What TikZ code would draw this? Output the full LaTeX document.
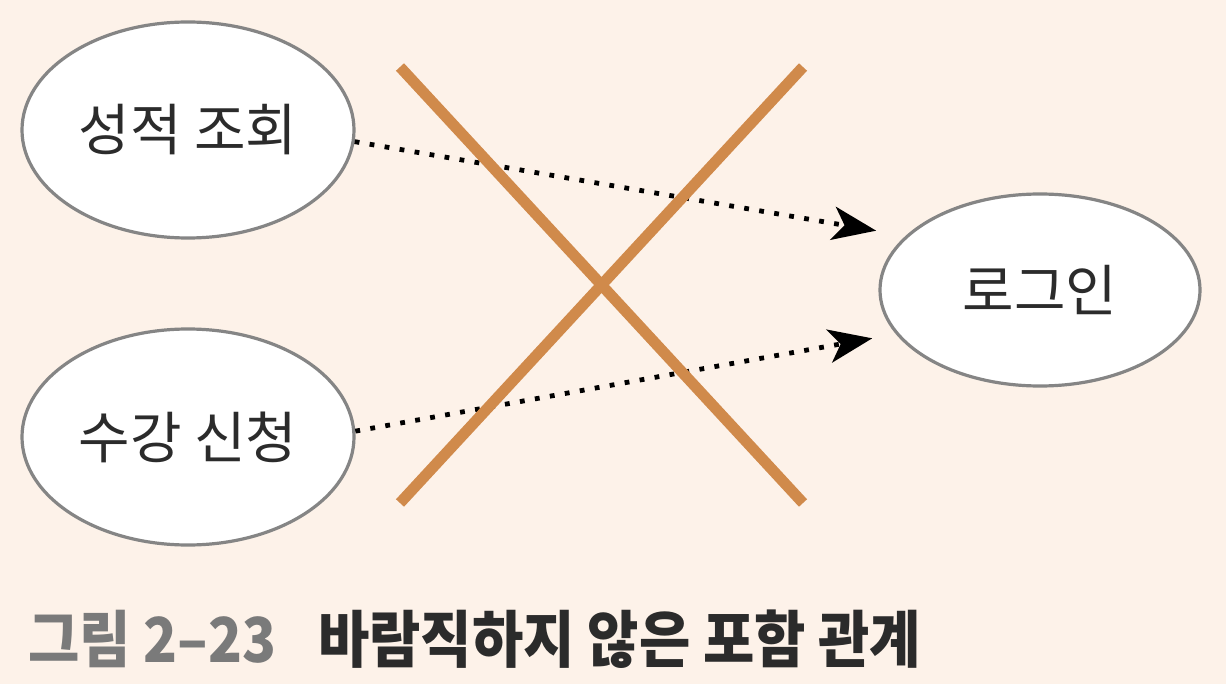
\documentclass[tikz,border=0pt]{standalone}
\usepackage{fontspec}
\setmainfont{Noto Sans CJK KR}
\usetikzlibrary{shapes.geometric,arrows.meta}
\definecolor{bgc}{HTML}{FDF2E9}
\definecolor{xcol}{HTML}{D08A4B}
\definecolor{edgec}{HTML}{858585}
\definecolor{txtc}{HTML}{2B2B2B}
\definecolor{capgray}{HTML}{7A7A7A}
\begin{document}
\begin{tikzpicture}[x=0.5pt,y=-0.5pt,
  usecase/.style={ellipse,draw=edgec,line width=1.6pt,fill=white,inner sep=0pt,
    text=txtc,font=\fontsize{28}{32}\selectfont},
  dep/.style={line width=2.4pt,dash pattern=on 2.4pt off 5.2pt,
    -{Stealth[length=22pt,width=17pt,inset=6pt,line width=0pt]}},
  cross/.style={draw=xcol,line width=5.5pt}]
\fill[bgc] (0,0) rectangle (1226,684);
\useasboundingbox (0,0) rectangle (1226,684);
% use cases
\node[usecase,minimum width=166pt,minimum height=108pt] (s1) at (188,130) {성적 조회};
\node[usecase,minimum width=166pt,minimum height=108pt] (s2) at (188,437) {수강 신청};
\node[usecase,minimum width=160pt,minimum height=96pt] (lg) at (1040,290) {로그인};
% dependencies
\draw[dep,shorten >=15pt] (s1.-4) -- (lg.158);
\draw[dep,shorten >=12pt] (s2.2) -- (lg.197);
% cross
\coordinate (a1) at (400,67);
\coordinate (a2) at (803,503);
\coordinate (b1) at (400,503);
\coordinate (b2) at (803,67);
\draw[cross] (a1) -- (a2);
\draw[cross] (b1) -- (b2);
% caption
\node[anchor=base west,inner sep=0pt] (cap) at (28,662)
  {\scalebox{0.9}[1]{\fontsize{31}{36}\selectfont\bfseries
  \textcolor{capgray}{그림 2–23}\hspace{0.75em}\textcolor{txtc}{바람직하지 않은 포함 관계}}};
\end{tikzpicture}
\end{document}
